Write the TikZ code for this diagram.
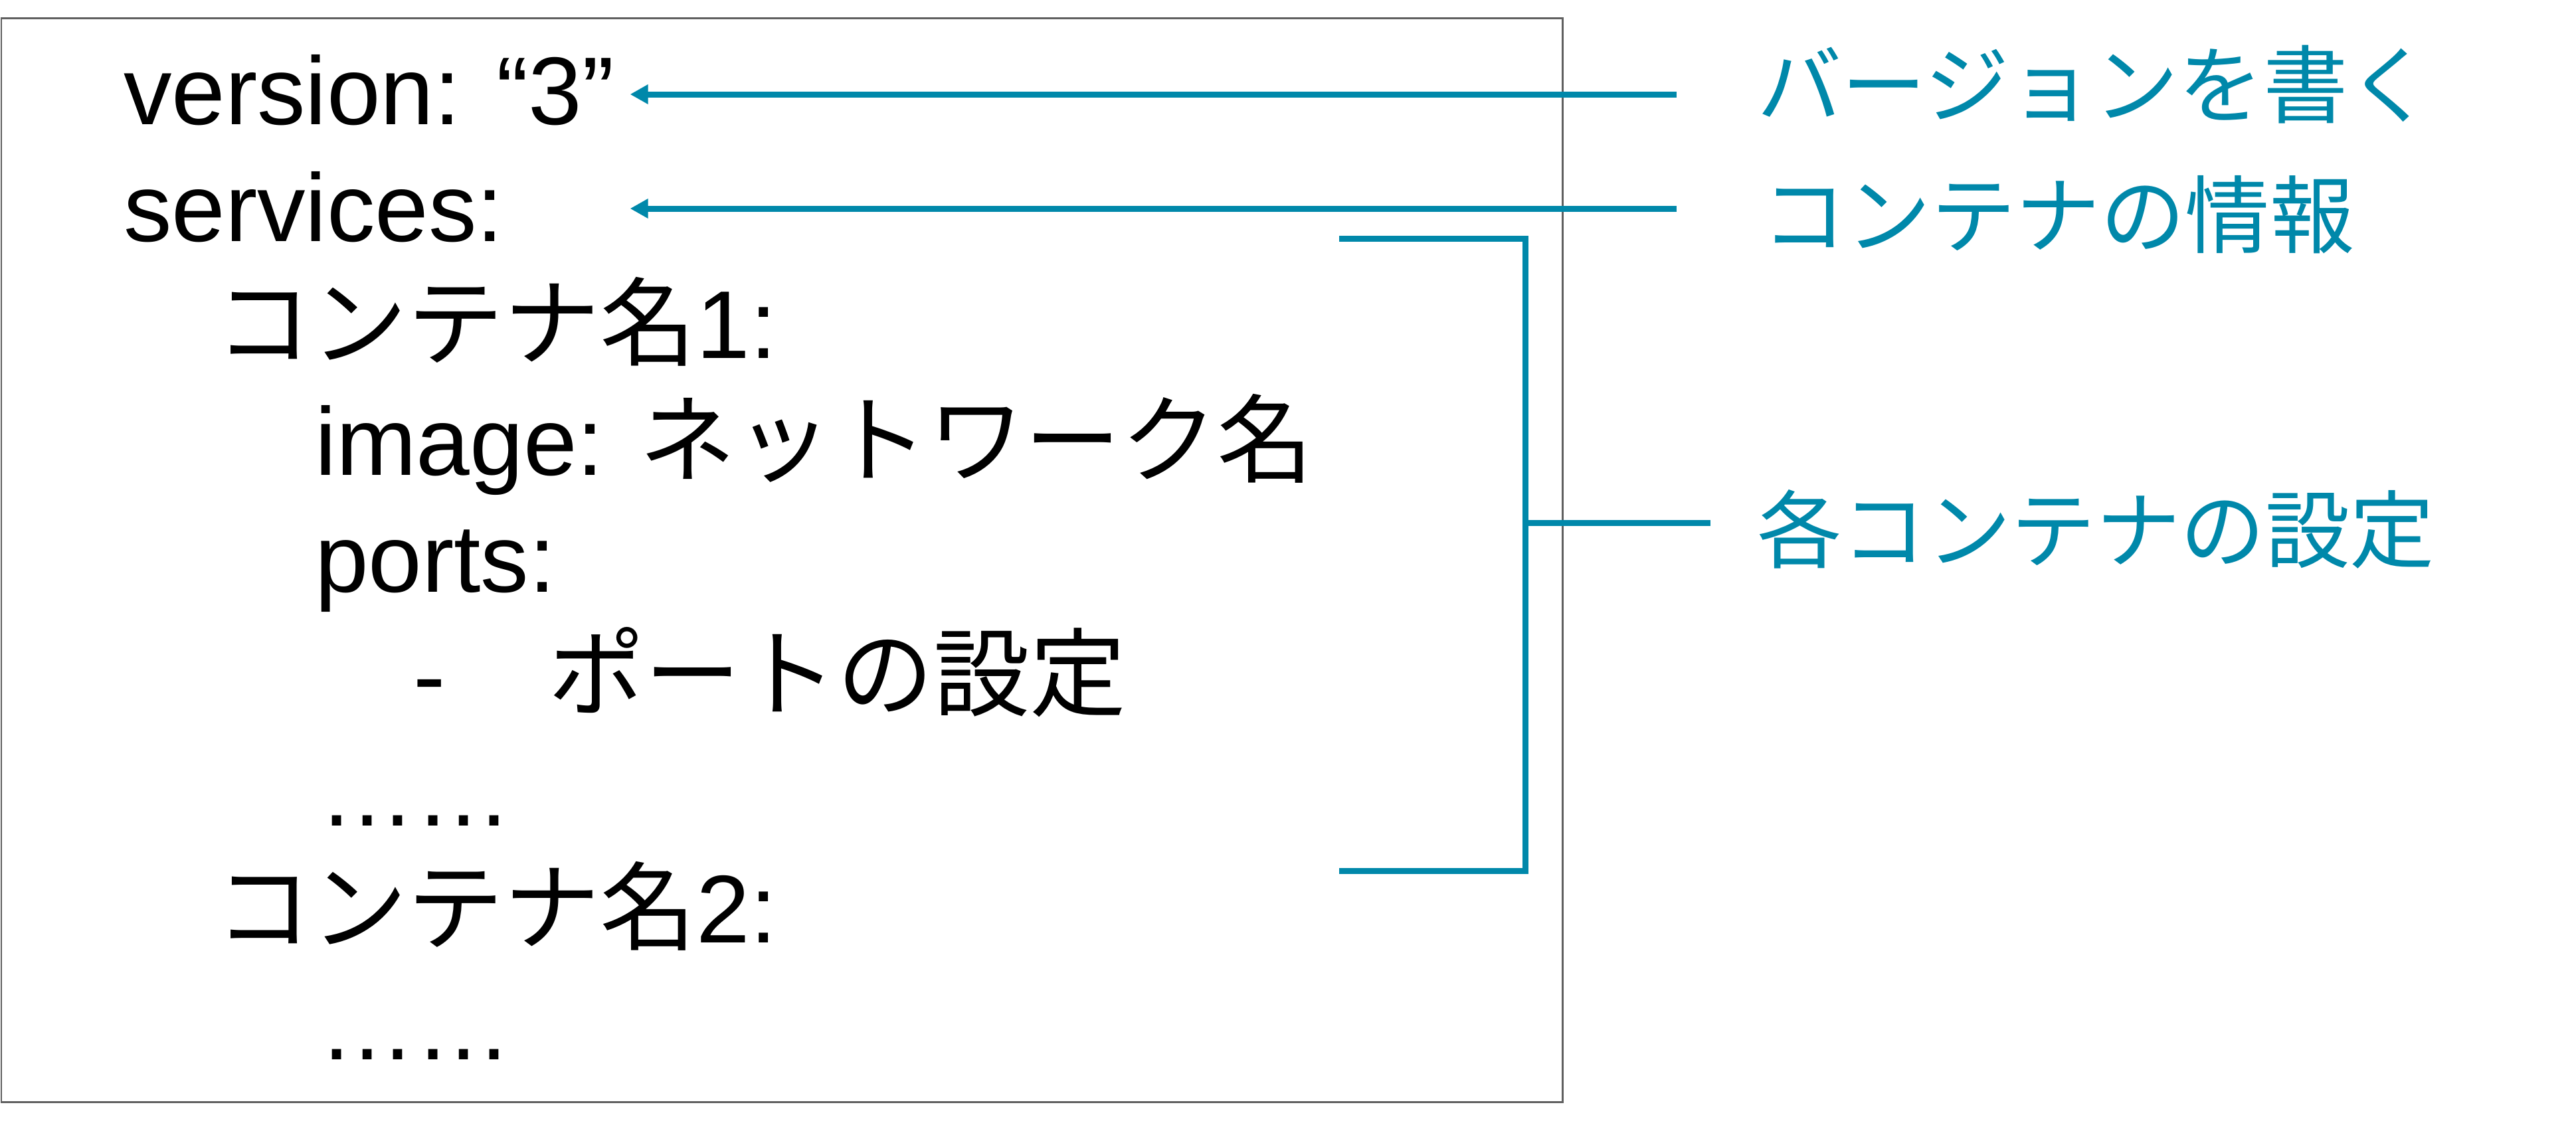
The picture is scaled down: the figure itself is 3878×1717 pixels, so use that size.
\documentclass[tikz,border=0pt]{standalone}
\usepackage{fontspec}
\setmainfont{Liberation Sans}
\newfontfamily\jp{Noto Sans CJK JP}
\usetikzlibrary{arrows.meta}
\definecolor{leadcol}{RGB}{0,136,170}
\definecolor{boxcol}{RGB}{96,96,96}
\begin{document}
\begin{tikzpicture}[x=0.1pt,y=-0.1pt,
    code/.style={anchor=base west,inner sep=0pt,font=\fontsize{14.5pt}{17pt}\selectfont},
    note/.style={anchor=base west,inner sep=0pt,text=leadcol,font=\fontsize{12.75pt}{15pt}\selectfont\jp},
    lead/.style={draw=leadcol,line width=0.9pt},
    arr/.style={lead,-{Triangle[length=2.7pt,width=2.8pt]}}]
    \useasboundingbox (0,0) rectangle (3878,1717);
    \draw[boxcol,line width=0.3pt] (2,27) rectangle (2352,1659);
    % yaml lines
    \node[code] (ver) at (184,187) {version: “3”};
    \node[code] (svc) at (184,363) {services:};
    \node[code] (c1) at (322,539) {{\jp コンテナ名}1:};
    \node[code] (img) at (472,715) {image: {\jp ネットワーク名}};
    \node[code] (prt) at (472,891) {ports:};
    \node[code] (pset) at (620,1067) {-\hspace{15.5pt}{\jp ポートの設定}};
    \node[code] (dot1) at (478,1243) {……};
    \node[code] (c2) at (322,1419) {{\jp コンテナ名}2:};
    \node[code] (dot2) at (478,1595) {……};
    % notes
    \node[note] (lver) at (2643,175) {バージョンを書く};
    \node[note] (lsvc) at (2650,371) {コンテナの情報};
    \node[note] (lcnt) at (2643,845) {各コンテナの設定};
    \coordinate (a1) at (2524,142);
    \coordinate (a2) at (2524,314);
    \coordinate (b1) at (2016,359);
    \coordinate (b2) at (2016,1311);
    \coordinate (bm) at (2296,787);
    \draw[arr] (a1) -- ([xshift=2.2pt]a1 -| ver.east);
    \draw[arr] (a2) -- ([xshift=2.2pt]a2 -| ver.east);
    \draw[lead] (b1) -| (bm) |- (b2);
    \draw[lead,shorten >=6.8pt] (bm) -- (bm -| lcnt.west);
\end{tikzpicture}
\end{document}
